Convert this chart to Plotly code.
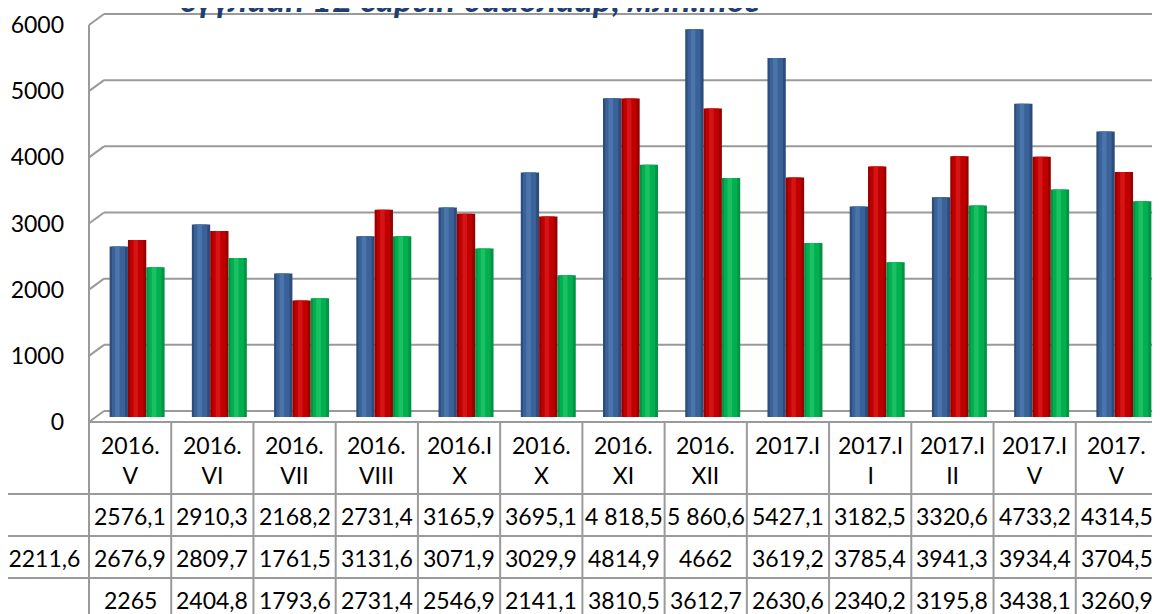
import plotly.graph_objs as go

# data
categories = ["2016.<br>V", "2016.<br>VI", "2016.<br>VII", "2016.<br>VIII", "2016.I<br>X", "2016.<br>X",
              "2016.<br>XI", "2016.<br>XII", "2017.I<br> ", "2017.I<br>I", "2017.I<br>II", "2017.I<br>V",
              "2017.<br>V"]
series_1 = [2576.1, 2910.3, 2168.2, 2731.4, 3165.9, 3695.1, 4818.5, 5860.6, 5427.1, 3182.5, 3320.6, 4733.2, 4314.5]
series_2 = [2676.9, 2809.7, 1761.5, 3131.6, 3071.9, 3029.9, 4814.9, 4662, 3619.2, 3785.4, 3941.3, 3934.4, 3704.5]
series_3 = [2265, 2404.8, 1793.6, 2731.4, 2546.9, 2141.1, 3810.5, 3612.7, 2630.6, 2340.2, 3195.8, 3438.1, 3260.9]
series_1_text = ["2576,1", "2910,3", "2168,2", "2731,4", "3165,9", "3695,1", "4 818,5", "5 860,6", "5427,1",
                 "3182,5", "3320,6", "4733,2", "4314,5"]
series_2_text = ["2676,9", "2809,7", "1761,5", "3131,6", "3071,9", "3029,9", "4814,9", "4662", "3619,2",
                 "3785,4", "3941,3", "3934,4", "3704,5"]
series_3_text = ["2265", "2404,8", "1793,6", "2731,4", "2546,9", "2141,1", "3810,5", "3612,7", "2630,6",
                 "2340,2", "3195,8", "3438,1", "3260,9"]
row_2_extra = "г 2211,6"
y_ticks = [0, 1000, 2000, 3000, 4000, 5000, 6000]
title_text = "сүүлийн 12 сарын байдлаар, млн.төг"

# cylinder look: edge / body / highlight
shades = [("#2C4D7C", "#3A6298", "#4F7AB0"),
          ("#9A0000", "#C00000", "#D91A1A"),
          ("#009444", "#00B050", "#22C466")]

W, H = 1160, 614
OFF = 8  # page margin around the figure
FONT = "Lato"
GRID = "#9A9A9A"

# pixel layout (page coordinates)
left_px, right_px = 89, 1158
n = len(categories)
col_w = (right_px - left_px) / n
shift = 7 / col_w          # bars sit a bit to the right (3d depth)
base_px, top_px = 417, 20  # y=0 and y=6000 for the bars
scale = (base_px - top_px) / 6000.0
depth_x, depth_y = 15, 6   # back wall offset
group_w = 55 / col_w
bar_w = group_w / 3


def px(x):
    return (x - OFF) / W


def py(y):
    return 1 - (y - OFF) / H


x_pos = list(range(n))
traces = []
for k, (vals, (c_edge, c_body, c_light)) in enumerate(zip([series_1, series_2, series_3], shades)):
    o = -group_w / 2 + k * bar_w
    traces.append(go.Bar(x=x_pos, y=vals, offset=o, width=bar_w, marker=dict(color=c_edge, line=dict(width=0))))
    traces.append(go.Bar(x=x_pos, y=vals, offset=o + 0.12 * bar_w, width=0.72 * bar_w,
                         marker=dict(color=c_body, line=dict(width=0))))
    traces.append(go.Bar(x=x_pos, y=vals, offset=o + 0.3 * bar_w, width=0.25 * bar_w,
                         marker=dict(color=c_light, line=dict(width=0), opacity=0.8)))

shapes = []
line = dict(color=GRID, width=2)
for v in y_ticks:
    yb = base_px - depth_y - v * scale
    yf = base_px + 5 - v * scale
    shapes.append(dict(type="line", xref="paper", yref="paper", x0=px(left_px + depth_x), x1=1,
                       y0=py(yb), y1=py(yb), line=line, layer="below"))
    shapes.append(dict(type="line", xref="paper", yref="paper", x0=px(left_px), x1=px(left_px + depth_x),
                       y0=py(yf), y1=py(yb), line=line, layer="below"))
# left wall front edge
shapes.append(dict(type="line", xref="paper", yref="paper", x0=px(left_px), x1=px(left_px),
                   y0=py(base_px + 5), y1=py(base_px + 5 - 6000 * scale), line=line, layer="below"))
# floor right edge
shapes.append(dict(type="line", xref="paper", yref="paper", x0=px(right_px), x1=px(right_px + depth_x),
                   y0=py(base_px + 5), y1=py(base_px - depth_y), line=line, layer="below"))

# table grid
table_top, row_lines = 422, [494, 536, 578]
shapes.append(dict(type="line", xref="paper", yref="paper", x0=px(left_px), x1=px(right_px),
                   y0=py(table_top), y1=py(table_top), line=line))
for k in range(n + 1):
    xk = left_px + k * col_w
    shapes.append(dict(type="line", xref="paper", yref="paper", x0=px(xk), x1=px(xk),
                       y0=py(table_top), y1=0, line=line))
for r in row_lines:
    shapes.append(dict(type="line", xref="paper", yref="paper", x0=0, x1=px(right_px),
                       y0=py(r), y1=py(r), line=line))

annotations = []
font = dict(family=FONT, size=23, color="black")
for i in range(n):
    annotations.append(dict(x=i - shift, y=py(460), xref="x", yref="paper", text=categories[i],
                            showarrow=False, font=font, xanchor="center", yanchor="middle"))
    for text_list, yc in zip([series_1_text, series_2_text, series_3_text], [516, 558, 600]):
        annotations.append(dict(x=i - shift, y=py(yc), xref="x", yref="paper", text=text_list[i],
                                showarrow=False, font=font, xanchor="center", yanchor="middle"))
annotations.append(dict(x=px(82), y=py(558), xref="paper", yref="paper", text=row_2_extra,
                        showarrow=False, font=font, xanchor="right", yanchor="middle"))
# title, mostly cut off by the top edge
annotations.append(dict(x=px(178), y=py(21), xref="paper", yref="paper", text="<b><i>" + title_text + "</i></b>",
                        showarrow=False, font=dict(family=FONT, size=35, color="#1F3F73"),
                        xanchor="left", yanchor="bottom"))

layout = go.Layout(
    width=W, height=H,
    margin=dict(l=0, r=0, t=0, b=0, autoexpand=False),
    paper_bgcolor="white", plot_bgcolor="white",
    showlegend=False,
    barmode="overlay",
    xaxis=dict(range=[-0.5 - shift, n - 0.5 - shift], domain=[px(left_px), px(right_px)],
               showticklabels=False, showgrid=False, zeroline=False, showline=False, fixedrange=True,
               automargin=False),
    yaxis=dict(range=[0, 6000], domain=[py(base_px), py(top_px)], tickvals=y_ticks,
               showgrid=False, zeroline=False, showline=False, ticklabelshift=5, ticklabelstandoff=24,
               tickfont=font, fixedrange=True, automargin=False),
    shapes=shapes,
    annotations=annotations,
)

fig = go.Figure(data=traces, layout=layout)
fig.write_html("out.html")
